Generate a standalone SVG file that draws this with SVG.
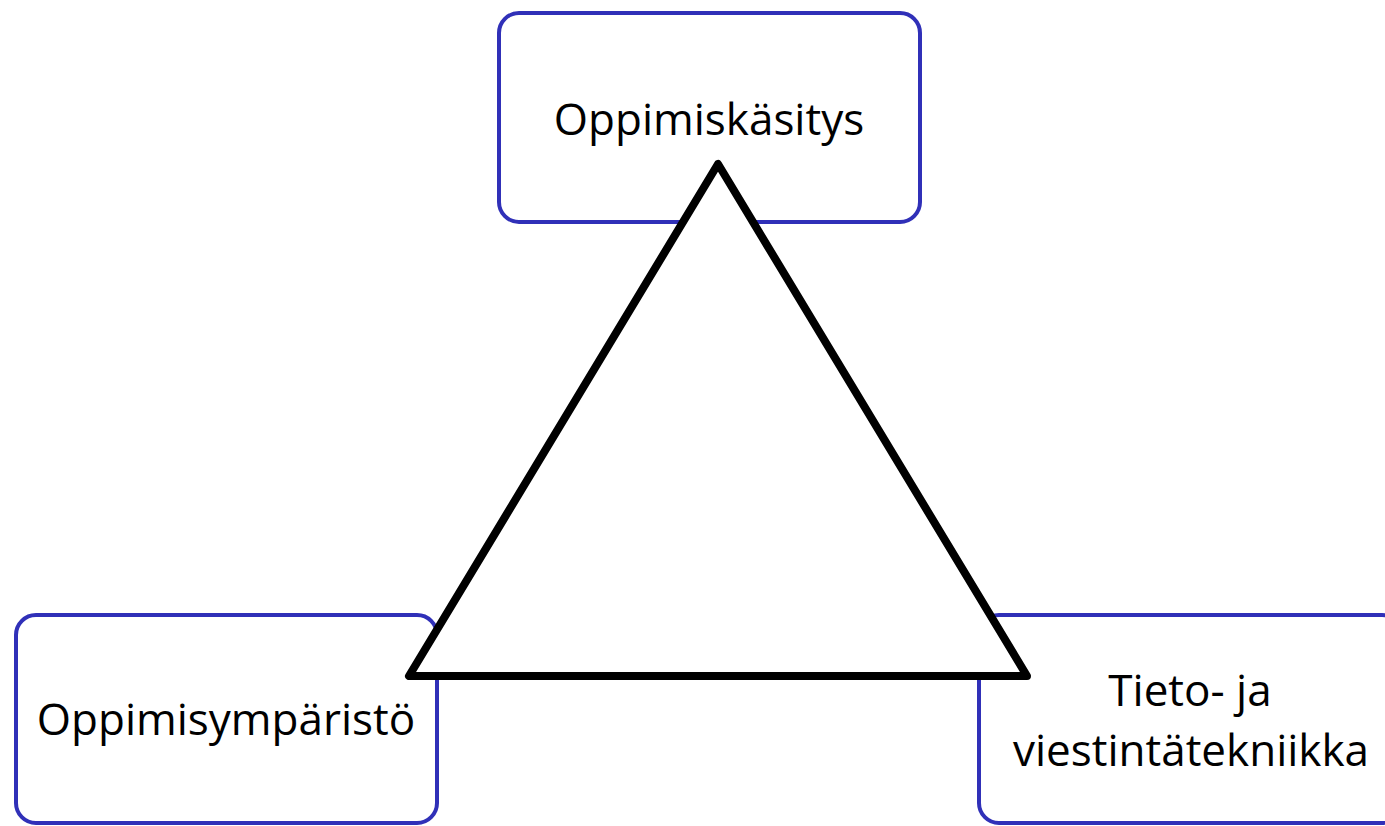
<svg xmlns="http://www.w3.org/2000/svg" width="1385" height="826" viewBox="0 0 1385 826">
<style>
.box{fill:#fff;stroke:#3030b8;stroke-width:4}
.lbl{font-family:"Open Sans","Liberation Sans",sans-serif;font-size:44px;fill:#000;text-anchor:middle}
.tri{fill:#fff;stroke:#000;stroke-width:8;stroke-linejoin:round}
</style>
<rect width="1385" height="826" fill="#fff"/>
<g id="node-top">
<rect class="box" x="499" y="13" width="421" height="209" rx="20"/>
<text class="lbl" x="709" y="135">Oppimiskäsitys</text>
</g>
<g id="node-left">
<rect class="box" x="16" y="615" width="421" height="208" rx="20"/>
<text class="lbl" x="226" y="735">Oppimisympäristö</text>
</g>
<g id="node-right">
<rect class="box" x="979" y="615" width="423" height="208" rx="20"/>
<text class="lbl" x="1190" y="706">Tieto- ja</text>
<text class="lbl" x="1191" y="766">viestintätekniikka</text>
</g>
<g id="connectors">
<polygon class="tri" points="718,164 409,676 1027,676"/>
</g>
</svg>
